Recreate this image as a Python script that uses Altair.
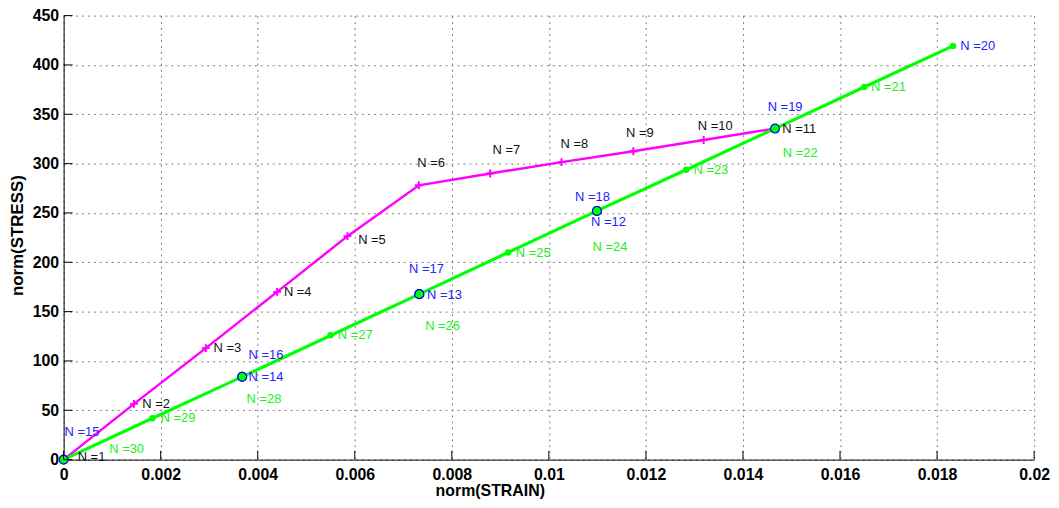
import altair as alt
import pandas as pd

# Loading path N = 1..11
load_n = list(range(1, 12))
load_strain = [0.0, 0.00145, 0.00293, 0.0044, 0.00585, 0.00732, 0.00879,
               0.01026, 0.01174, 0.01319, 0.01466]
load_stress = [0, 56.5, 113, 170, 226.5, 278, 290, 301.5, 312.5, 324, 335.5]

# Unloading / reloading path N = 11..30
cycle_n = list(range(11, 31))
cycle_strain = [0.01466, 0.01099, 0.00733, 0.00368, 0.0, 0.00368, 0.00733,
                0.01099, 0.01466, 0.01833, 0.0165, 0.01466, 0.01283, 0.01099,
                0.00916, 0.00733, 0.0055, 0.00368, 0.00183, 0.0]
cycle_stress = [335.5, 252, 167.7, 84, 0, 84, 167.7, 252, 335.5, 419.3, 377.7,
                335.5, 293.7, 252, 210, 167.7, 126, 84, 42, 0]

# Text labels "N =k" (anchor of the label, in data units)
label_n = list(range(1, 31))
label_strain = [0.00029, 0.00162, 0.00309, 0.00454, 0.00607, 0.00729, 0.00884,
                0.01024, 0.01159, 0.01307, 0.01481, 0.01087, 0.00749, 0.00381,
                0.00002, 0.00381, 0.00712, 0.01054, 0.01451, 0.01848, 0.01664,
                0.01482, 0.01298, 0.0109, 0.00932, 0.00745, 0.00565, 0.00377,
                0.002, 0.00094]
label_stress = [3, 56.7, 113, 170, 222.7, 301, 313.7, 320, 331, 337.7, 335,
                240.3, 167, 84, 28.3, 106, 192.7, 266, 357, 419.3, 377.7, 311,
                293.3, 215.3, 209.3, 135.3, 126, 61, 42, 10.3]
label_group = ["load"] * 11 + ["reload"] * 9 + ["unload"] * 10

x_ticks = [0, 0.002, 0.004, 0.006, 0.008, 0.01, 0.012, 0.014, 0.016, 0.018, 0.02]
y_ticks = [0, 50, 100, 150, 200, 250, 300, 350, 400, 450]

FONT = "Liberation Sans"
MAGENTA = "#ff00ff"
GREEN = "#00ff00"
BLUE = "#0000ff"

load_df = pd.DataFrame({"n": load_n, "strain": load_strain, "stress": load_stress})
cycle_df = pd.DataFrame({"n": cycle_n, "strain": cycle_strain, "stress": cycle_stress})
label_df = pd.DataFrame({
    "n": label_n, "strain": label_strain, "stress": label_stress,
    "group": label_group,
    "text": ["N =" + str(k) for k in label_n],
})

xscale = alt.Scale(domain=[0, 0.02], nice=False)
yscale = alt.Scale(domain=[0, 450], nice=False)

xaxis = alt.Axis(values=x_ticks, format=".3~f", grid=True, gridDash=[2, 4],
                 gridColor="#808080", gridOpacity=1, gridWidth=1, ticks=False,
                 domainColor="black", domainWidth=1, labelFont=FONT,
                 labelFontWeight="bold", labelFontSize=16, labelColor="black",
                 labelPadding=7, title="norm(STRAIN)", titleFont=FONT,
                 titleFontWeight="bold", titleFontSize=16, titleColor="black",
                 titleX=429, titleY=31, titleBaseline="middle", labelFlush=False)
yaxis = alt.Axis(values=y_ticks, format="d", grid=True, gridDash=[2, 4],
                 gridColor="#808080", gridOpacity=1, gridWidth=1, ticks=False,
                 domainColor="black", domainWidth=1, labelFont=FONT,
                 labelFontWeight="bold", labelFontSize=16, labelColor="black",
                 labelPadding=5, title="norm(STRESS)", titleFont=FONT,
                 titleFontWeight="bold", titleFontSize=17, titleColor="black",
                 titleX=-46, titleY=221, titleBaseline="middle", labelFlush=False)

base_x = alt.X("strain:Q", scale=xscale, axis=xaxis)
base_y = alt.Y("stress:Q", scale=yscale, axis=yaxis)

load_line = alt.Chart(load_df).mark_line(color=MAGENTA, strokeWidth=2.5).encode(
    x=base_x, y=base_y, order="n:Q")
load_pts = alt.Chart(load_df).mark_point(
    shape="M-1,0L1,0M0,-1L0,1", size=64, stroke=MAGENTA, strokeWidth=2,
    filled=False, opacity=1).encode(x="strain:Q", y="stress:Q")

cycle_line = alt.Chart(cycle_df).mark_line(color=GREEN, strokeWidth=3).encode(
    x="strain:Q", y="stress:Q", order="n:Q")
blue_pts = alt.Chart(cycle_df).transform_filter(
    (alt.datum.n >= 12) & (alt.datum.n <= 19)).mark_point(
    shape="circle", size=80, filled=True, fill=GREEN, stroke=BLUE,
    strokeWidth=1.2, opacity=1).encode(x="strain:Q", y="stress:Q")
green_pts = alt.Chart(cycle_df).transform_filter(alt.datum.n >= 20).mark_circle(
    size=42, color=GREEN, opacity=1).encode(x="strain:Q", y="stress:Q")

labels = alt.Chart(label_df).mark_text(
    align="left", baseline="middle", font=FONT, fontSize=13).encode(
    x="strain:Q", y="stress:Q", text="text:N",
    color=alt.Color("group:N", scale=alt.Scale(
        domain=["load", "reload", "unload"],
        range=["#111111", "#2222ff", "#22ee22"]), legend=None))

xt = alt.Chart(pd.DataFrame({"strain": x_ticks, "stress": [0] * len(x_ticks)})).mark_tick(
    orient="vertical", size=9, thickness=1, color="black", yOffset=-4.5, opacity=1).encode(
    x="strain:Q", y="stress:Q")
yt = alt.Chart(pd.DataFrame({"strain": [0] * len(y_ticks), "stress": y_ticks})).mark_tick(
    orient="horizontal", size=9, thickness=1, color="black", xOffset=4.5, opacity=1).encode(
    x="strain:Q", y="stress:Q")

chart = alt.layer(load_line, cycle_line, load_pts, blue_pts, green_pts, labels, xt, yt).properties(
    width=977, height=447,
    autosize=alt.AutoSizeParams(type="none"),
    padding={"left": 56, "top": 6, "right": 17, "bottom": 39},
    background="white",
).configure_view(stroke=None)

chart.save("out.html", embed_options={"renderer": "svg", "actions": False})
